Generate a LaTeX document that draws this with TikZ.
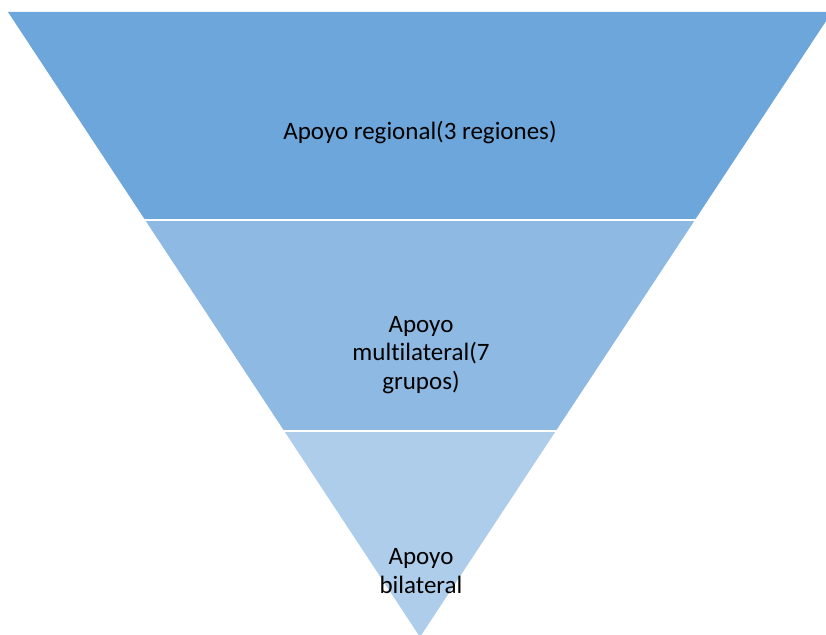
\documentclass[tikz,border=0pt]{standalone}
\usepackage{fontspec}
\setmainfont{Carlito}[Ligatures=NoCommon]
\usetikzlibrary{calc}
\definecolor{bandA}{HTML}{6CA6DA}
\definecolor{bandB}{HTML}{8EB9E3}
\definecolor{bandC}{HTML}{AECDEB}
\begin{document}
\begin{tikzpicture}[x=1bp,y=-1bp,
  lbl/.style={font=\fontsize{25bp}{28.5bp}\selectfont, align=center, text=black, inner sep=0pt},
  sep/.style={white, line width=2bp}]
\useasboundingbox (0,0) rectangle (826,635);
\begin{scope}
\clip (0,0) rectangle (826,635);
% coordinates of the inverted triangle
\coordinate (TL) at (8,12);
\coordinate (TR) at (832,12);
\coordinate (AP) at (420,637);
\fill[bandA] (TL) -- (TR) -- ($(TR)!0.332!(AP)$) -- ($(TL)!0.332!(AP)$) -- cycle;
\fill[bandB] ($(TL)!0.332!(AP)$) -- ($(TR)!0.332!(AP)$) -- ($(TR)!0.67!(AP)$) -- ($(TL)!0.67!(AP)$) -- cycle;
\fill[bandC] ($(TL)!0.67!(AP)$) -- ($(TR)!0.67!(AP)$) -- (AP) -- cycle;
\draw[sep] ($(TL)!0.332!(AP)+(-5,0)$) -- ($(TR)!0.332!(AP)+(5,0)$);
\draw[sep] ($(TL)!0.67!(AP)+(-5,0)$) -- ($(TR)!0.67!(AP)+(5,0)$);
\end{scope}
\node[lbl] (t1) at (420,133) {Apoyo regional(3 regiones)};
\node[lbl] (t2) at (421,355) {Apoyo\\multilateral(7\\grupos)};
\node[lbl] (t3) at (421,571) {Apoyo\\bilateral};
\end{tikzpicture}
\end{document}
